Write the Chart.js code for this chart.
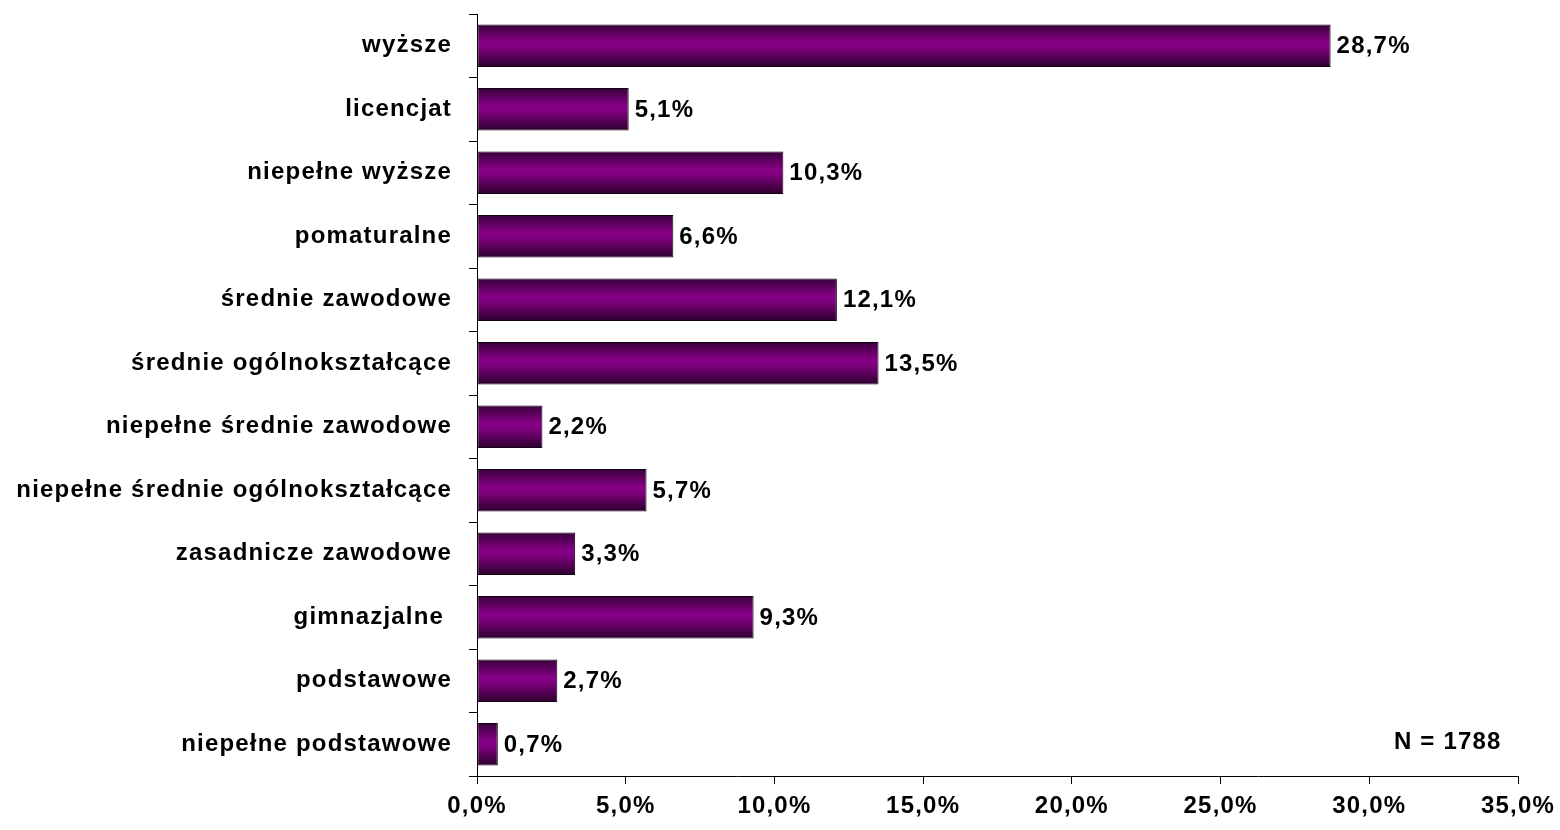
<!DOCTYPE html>
<html>
<head>
<meta charset="utf-8">
<script src="https://cdn.jsdelivr.net/npm/chart.js@4"></script>
<style>
  html, body { margin: 0; padding: 0; background: #ffffff; }
  #wrap { width: 1560px; height: 830px; }
</style>
</head>
<body>
<div id="wrap"><canvas id="c" width="1560" height="830"></canvas></div>
<script>
// Education levels and share of respondents (%)
const categories = [
  'wyższe',
  'licencjat',
  'niepełne wyższe',
  'pomaturalne',
  'średnie zawodowe',
  'średnie ogólnokształcące',
  'niepełne średnie zawodowe',
  'niepełne średnie ogólnokształcące',
  'zasadnicze zawodowe',
  'gimnazjalne ',
  'podstawowe',
  'niepełne podstawowe'
];
const shares = [28.7, 5.1, 10.3, 6.6, 12.1, 13.5, 2.2, 5.7, 3.3, 9.3, 2.7, 0.7];
const sampleNote = 'N = 1788';

const FONT = 'Liberation Sans, Arial, sans-serif';
const FONT_SIZE = 24;
const SPACING = '1.2px';

const fmt = v => v.toFixed(1).replace('.', ',') + '%';

// vertical "cylinder" shading for each bar
function barFill(ctx) {
  const chart = ctx.chart;
  const y = chart.scales && chart.scales.y;
  if (!chart.chartArea || !y || ctx.dataIndex === undefined) return '#800080';
  const c = y.getPixelForValue(ctx.dataIndex);
  const band = y.height / categories.length;
  const h = band * 0.67;
  const g = chart.ctx.createLinearGradient(0, c - h / 2, 0, c + h / 2);
  g.addColorStop(0, '#38003a');
  g.addColorStop(0.42, '#860086');
  g.addColorStop(0.55, '#7e007e');
  g.addColorStop(1, '#2c002c');
  return g;
}

// wider letter spacing for all canvas text
const textSpacing = {
  id: 'textSpacing',
  beforeUpdate(chart) { chart.ctx.letterSpacing = SPACING; },
  beforeDraw(chart) { chart.ctx.letterSpacing = SPACING; }
};

const valueLabels = {
  id: 'valueLabels',
  afterDatasetsDraw(chart) {
    const { ctx } = chart;
    const meta = chart.getDatasetMeta(0);
    ctx.save();
    ctx.font = 'bold ' + FONT_SIZE + 'px ' + FONT;
    ctx.fillStyle = '#000';
    ctx.textAlign = 'left';
    ctx.textBaseline = 'middle';
    meta.data.forEach((bar, i) => {
      ctx.fillText(fmt(shares[i]), bar.x + 6, bar.y + 1);
    });
    // sample size note
    const x = chart.scales.x;
    ctx.textAlign = 'right';
    ctx.fillText(sampleNote, x.getPixelForValue(34.45), chart.scales.y.getPixelForValue(categories.length - 1) - 2);
    ctx.restore();
  }
};

new Chart(document.getElementById('c'), {
  type: 'bar',
  data: {
    labels: categories,
    datasets: [{
      data: shares,
      backgroundColor: barFill,
      borderColor: '#140014',
      borderWidth: 1,
      borderSkipped: false,
      categoryPercentage: 1,
      barPercentage: 0.67
    }]
  },
  options: {
    indexAxis: 'y',
    responsive: false,
    animation: false,
    devicePixelRatio: 1,
    layout: { padding: { top: 14, right: 42, left: 0, bottom: 0 } },
    plugins: {
      legend: { display: false },
      tooltip: { enabled: false }
    },
    scales: {
      x: {
        min: 0,
        max: 35,
        afterFit(s) { s.height = 54; s.paddingLeft = 0; s.paddingRight = 0; },
        ticks: {
          stepSize: 5,
          color: '#000',
          padding: 8,
          maxRotation: 0,
          font: { family: FONT, size: FONT_SIZE, weight: 'bold' },
          callback: v => fmt(v)
        },
        grid: { drawOnChartArea: false, tickLength: 8, color: '#000', lineWidth: 1 },
        border: { color: '#000', width: 1 }
      },
      y: {
        afterFit(s) { s.width = 477; s.paddingTop = 0; s.paddingBottom = 0; },
        ticks: {
          color: '#000',
          padding: 17,
          autoSkip: false,
          font: { family: FONT, size: FONT_SIZE, weight: 'bold' }
        },
        grid: { offset: true, drawOnChartArea: false, tickLength: 8, color: '#000', lineWidth: 1 },
        border: { color: '#000', width: 1 }
      }
    }
  },
  plugins: [textSpacing, valueLabels]
});
</script>
</body>
</html>
